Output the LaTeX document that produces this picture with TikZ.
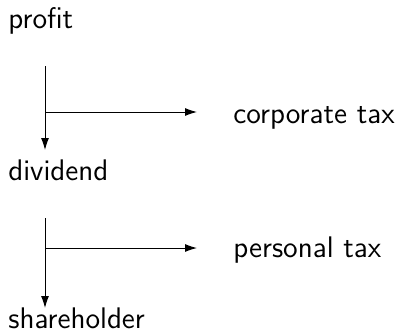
\documentclass[tikz,border=0pt]{standalone}
\usetikzlibrary{arrows.meta}
\begin{document}
\begin{tikzpicture}[x=0.5pt,y=-0.5pt,
  lbl/.style={anchor=base west,inner sep=0pt,font=\sffamily\fontsize{14.9pt}{17pt}\selectfont},
  flow/.style={line width=0.5pt,-{Latex[length=6pt,width=4pt]}}]
\useasboundingbox (0,0) rectangle (399,332);
\node[lbl] (profit) at (8,28) {profit};
\node[lbl] (dividend) at (8,180) {dividend};
\node[lbl] (shareholder) at (8,328) {shareholder};
\node[lbl] (ctax) at (233,123) {corporate tax};
\node[lbl] (ptax) at (233,257) {personal tax};
\coordinate (a1) at (45,66);
\coordinate (b1) at (45,150);
\coordinate (h1) at (45,112);
\coordinate (e1) at (197,112);
\coordinate (a2) at (45,218);
\coordinate (b2) at (45,308);
\coordinate (h2) at (45,248);
\coordinate (e2) at (197,248);
\draw[flow] (a1) -- (b1);
\draw[flow] (h1) -- (e1);
\draw[flow] (a2) -- (b2);
\draw[flow] (h2) -- (e2);
\end{tikzpicture}
\end{document}
